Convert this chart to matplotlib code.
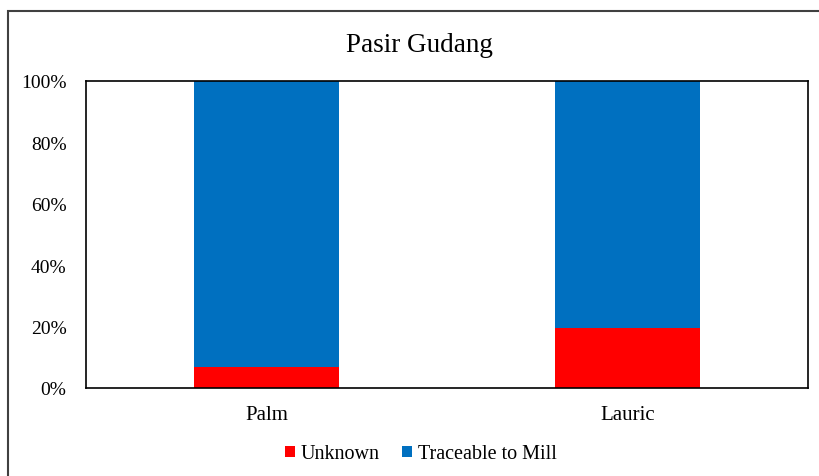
import matplotlib.pyplot as plt
from matplotlib.patches import Rectangle
from matplotlib.ticker import PercentFormatter

plt.rcParams['font.family'] = ['Liberation Serif', 'DejaVu Serif']

categories = ['Palm', 'Lauric']
unknown = [6.8, 19.5]
traceable = [93.2, 80.5]
series_names = ['Unknown', 'Traceable to Mill']
colors = ['#ff0000', '#0070c0']

W, H = 819, 477
fig = plt.figure(figsize=(W / 100, H / 100), dpi=100)
ax = fig.add_axes([86 / W, 1 - 389 / H, (808 - 86) / W, (389 - 82) / H])

x = range(len(categories))
ax.bar(x, unknown, width=0.4, color=colors[0], label=series_names[0])
ax.bar(x, traceable, width=0.4, bottom=unknown, color=colors[1], label=series_names[1])

ax.set_xlim(-0.5, 1.5)
ax.set_ylim(0, 100)
ax.set_yticks([0, 20, 40, 60, 80, 100])
ax.yaxis.set_major_formatter(PercentFormatter(decimals=0))
ax.set_xticks(list(x))
ax.set_xticklabels(categories)
ax.tick_params(axis='y', length=0, labelsize=14, pad=14)
ax.tick_params(axis='x', length=0, labelsize=15, pad=12)
for s in ax.spines.values():
    s.set_color('black')
    s.set_linewidth(1.2)

fig.text(419 / W, 1 - 46 / H, 'Pasir Gudang', ha='center', va='center', fontsize=19.5)

fig.legend(loc='center', bbox_to_anchor=(421 / W, 1 - 455 / H), ncol=2, frameon=False,
           fontsize=14.5, handlelength=0.5, handleheight=0.5, handletextpad=0.3,
           columnspacing=1.1)

# outer chart border (runs off the right and bottom edges)
fig.patches.append(Rectangle((8 / W, -0.1), 1.2, 1.1 - 12 / H, transform=fig.transFigure,
                             fill=False, edgecolor='#404040', linewidth=1.5))

fig.savefig('out.png', dpi=100)
